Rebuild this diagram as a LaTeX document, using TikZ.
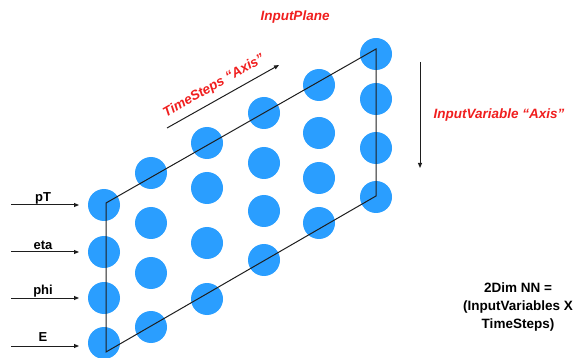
\documentclass[tikz,border=0pt]{standalone}
\usepackage{fontspec}
\setmainfont{Liberation Sans}
\usetikzlibrary{arrows.meta}
\definecolor{dotblue}{RGB}{42,158,255}
\definecolor{axisred}{RGB}{240,30,30}
\definecolor{linegray}{RGB}{30,30,30}
\begin{document}
\begin{tikzpicture}[x=1pt,y=-1pt,
  dot/.style={circle,fill=dotblue,minimum size=32pt,inner sep=0pt},
  edge/.style={draw=linegray,line width=1pt},
  axisarrow/.style={draw=linegray,line width=1pt,-{Triangle[length=5pt,width=4pt]}},
  redlabel/.style={text=axisred,font=\fontsize{13.5}{16}\selectfont\bfseries\itshape,inner sep=0pt},
  varlabel/.style={font=\fontsize{13}{15}\selectfont\bfseries,inner sep=0pt},
  infolabel/.style={font=\fontsize{13.5}{18}\selectfont\bfseries,align=center,inner sep=0pt}]
\useasboundingbox (0,0) rectangle (573,358);
% dots: columns
\foreach \c/\x/\ya/\yb/\yc/\yd in {1/104/205/252/298/343, 2/151/173/223/273/327, 3/207/143/188/243/299, 4/264/113/163/211/260, 5/319/85/133/178/223, 6/376/54/99/148/197}{
  \node[dot] (d\c-1) at (\x,\ya) {};
  \node[dot] (d\c-2) at (\x,\yb) {};
  \node[dot] (d\c-3) at (\x,\yc) {};
  \node[dot] (d\c-4) at (\x,\yd) {};
}
% input plane parallelogram
\coordinate (p1) at (106,203);
\coordinate (p2) at (376,49);
\coordinate (p3) at (376,196);
\coordinate (p4) at (106,352);
\draw[edge] (p1) -- (p2) -- (p3) -- (p4) -- cycle;
% input arrows
\coordinate (s1) at (11,205);
\coordinate (s2) at (11,252);
\coordinate (s3) at (11,298);
\coordinate (s4) at (11,346);
\coordinate (e1) at (79,205);
\coordinate (e2) at (79,252);
\coordinate (e3) at (79,298);
\coordinate (e4) at (79,346);
\draw[axisarrow] (s1) -- (e1);
\draw[axisarrow] (s2) -- (e2);
\draw[axisarrow] (s3) -- (e3);
\draw[axisarrow] (s4) -- (e4);
\node[varlabel] (lpt) at (43,198) {pT};
\node[varlabel] (leta) at (43,245) {eta};
\node[varlabel] (lphi) at (43,291) {phi};
\node[varlabel] (lE) at (43,337) {E};
% timesteps axis
\coordinate (ts) at (167,128);
\coordinate (te) at (279,65);
\draw[axisarrow] (ts) -- (te);
\node[redlabel,rotate=29.5] (tlab) at (214,86) {TimeSteps “Axis”};
% input variable axis
\coordinate (vs) at (420,62);
\coordinate (ve) at (420,168);
\draw[axisarrow] (vs) -- (ve);
\node[redlabel] (vlab) at (499,115) {InputVariable “Axis”};
% titles
\node[redlabel] (plane) at (295,17) {InputPlane};
\node[infolabel] (info) at (518,307) {2Dim NN =\\(InputVariables X\\TimeSteps)};
\end{tikzpicture}
\end{document}
